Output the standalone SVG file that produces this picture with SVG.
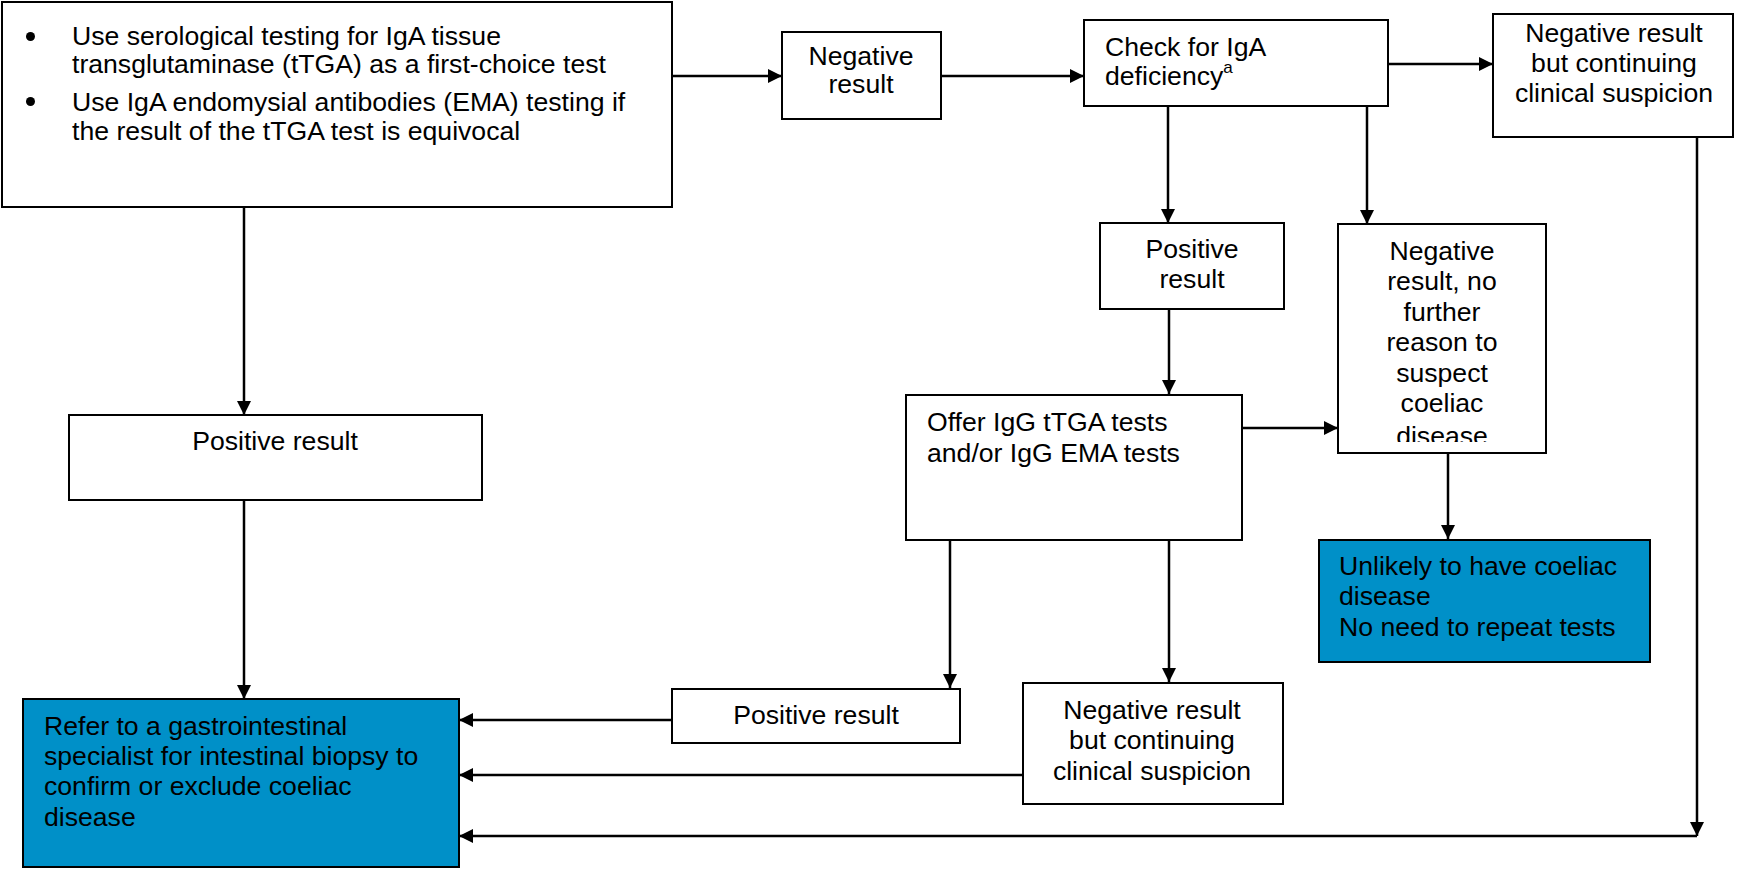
<svg xmlns="http://www.w3.org/2000/svg" width="1751" height="869" viewBox="0 0 1751 869">
<defs>
<style>
.box{fill:#fff;stroke:#000;stroke-width:2}
.blue{fill:#0090C8;stroke:#000;stroke-width:2}
text{font-family:"Liberation Sans",Arial,sans-serif;font-size:25px;fill:#000;transform-box:fill-box;transform-origin:left center;transform:scaleX(1.065)}
text.c{text-anchor:middle;transform-origin:center center}
.sup{font-size:16px}
.conn{fill:none;stroke:#000;stroke-width:2.5}
</style>
<marker id="ah" markerUnits="userSpaceOnUse" markerWidth="16" markerHeight="16" refX="14" refY="7" orient="auto">
<path d="M0,0 L14,7 L0,14 z" fill="#000"/>
</marker>
<clipPath id="clipNeg"><rect x="1338" y="224" width="208" height="218"/></clipPath>
</defs>
<rect width="1751" height="869" fill="#fff"/>

<g id="connectors">
<path class="conn" d="M672,76 H782" marker-end="url(#ah)"/>
<path class="conn" d="M941,76 H1084" marker-end="url(#ah)"/>
<path class="conn" d="M1388,64 H1493" marker-end="url(#ah)"/>
<path class="conn" d="M1168,106 V223" marker-end="url(#ah)"/>
<path class="conn" d="M1367,106 V224" marker-end="url(#ah)"/>
<path class="conn" d="M1169,309 V394" marker-end="url(#ah)"/>
<path class="conn" d="M1242,428 H1338" marker-end="url(#ah)"/>
<path class="conn" d="M1448,453 V539" marker-end="url(#ah)"/>
<path class="conn" d="M950,540 V688" marker-end="url(#ah)"/>
<path class="conn" d="M1169,540 V682" marker-end="url(#ah)"/>
<path class="conn" d="M244,207 V415" marker-end="url(#ah)"/>
<path class="conn" d="M244,500 V699" marker-end="url(#ah)"/>
<path class="conn" d="M672,720 H459" marker-end="url(#ah)"/>
<path class="conn" d="M1023,775 H459" marker-end="url(#ah)"/>
<path class="conn" d="M1697,137 V836" marker-end="url(#ah)"/>
<path class="conn" d="M1697,836 H459" marker-end="url(#ah)"/>
</g>

<g id="n-serology">
<rect class="box" x="2" y="2" width="670" height="205"/>
<circle cx="30.5" cy="36.5" r="4.5"/>
<circle cx="30.5" cy="101.5" r="4.5"/>
<text x="72" y="45">Use serological testing for IgA tissue</text>
<text x="72" y="73">transglutaminase (tTGA) as a first-choice test</text>
<text x="72" y="111">Use IgA endomysial antibodies (EMA) testing if</text>
<text x="72" y="140">the result of the tTGA test is equivocal</text>
</g>

<g id="n-negative1">
<rect class="box" x="782" y="32" width="159" height="87"/>
<text class="c" x="861" y="65">Negative</text>
<text class="c" x="861" y="93">result</text>
</g>

<g id="n-iga">
<rect class="box" x="1084" y="20" width="304" height="86"/>
<text x="1105" y="56">Check for IgA</text>
<text x="1105" y="85">deficiency<tspan class="sup" dy="-12">a</tspan></text>
</g>

<g id="n-negative-suspicion-top">
<rect class="box" x="1493" y="14" width="240" height="123"/>
<text class="c" x="1614" y="42">Negative result</text>
<text class="c" x="1614" y="72">but continuing</text>
<text class="c" x="1614" y="102">clinical suspicion</text>
</g>

<g id="n-positive-iga">
<rect class="box" x="1100" y="223" width="184" height="86"/>
<text class="c" x="1192" y="258">Positive</text>
<text class="c" x="1192" y="288">result</text>
</g>

<g id="n-negative-nofurther">
<rect class="box" x="1338" y="224" width="208" height="229"/>
<g clip-path="url(#clipNeg)">
<text class="c" x="1442" y="260">Negative</text>
<text class="c" x="1442" y="290">result, no</text>
<text class="c" x="1442" y="321">further</text>
<text class="c" x="1442" y="351">reason to</text>
<text class="c" x="1442" y="382">suspect</text>
<text class="c" x="1442" y="412">coeliac</text>
<text class="c" x="1442" y="445">disease</text>
</g>
</g>

<g id="n-igg">
<rect class="box" x="906" y="395" width="336" height="145"/>
<text x="927" y="431">Offer IgG tTGA tests</text>
<text x="927" y="462">and/or IgG EMA tests</text>
</g>

<g id="n-unlikely">
<rect class="blue" x="1319" y="540" width="331" height="122"/>
<text x="1339" y="575">Unlikely to have coeliac</text>
<text x="1339" y="605">disease</text>
<text x="1339" y="636">No need to repeat tests</text>
</g>

<g id="n-positive-left">
<rect class="box" x="69" y="415" width="413" height="85"/>
<text class="c" x="275" y="450">Positive result</text>
</g>

<g id="n-refer">
<rect class="blue" x="23" y="699" width="436" height="168"/>
<text x="44" y="735">Refer to a gastrointestinal</text>
<text x="44" y="765">specialist for intestinal biopsy to</text>
<text x="44" y="795">confirm or exclude coeliac</text>
<text x="44" y="826">disease</text>
</g>

<g id="n-positive-igg">
<rect class="box" x="672" y="689" width="288" height="54"/>
<text class="c" x="816" y="724">Positive result</text>
</g>

<g id="n-negative-suspicion-bottom">
<rect class="box" x="1023" y="683" width="260" height="121"/>
<text class="c" x="1152" y="719">Negative result</text>
<text class="c" x="1152" y="749">but continuing</text>
<text class="c" x="1152" y="780">clinical suspicion</text>
</g>
</svg>
